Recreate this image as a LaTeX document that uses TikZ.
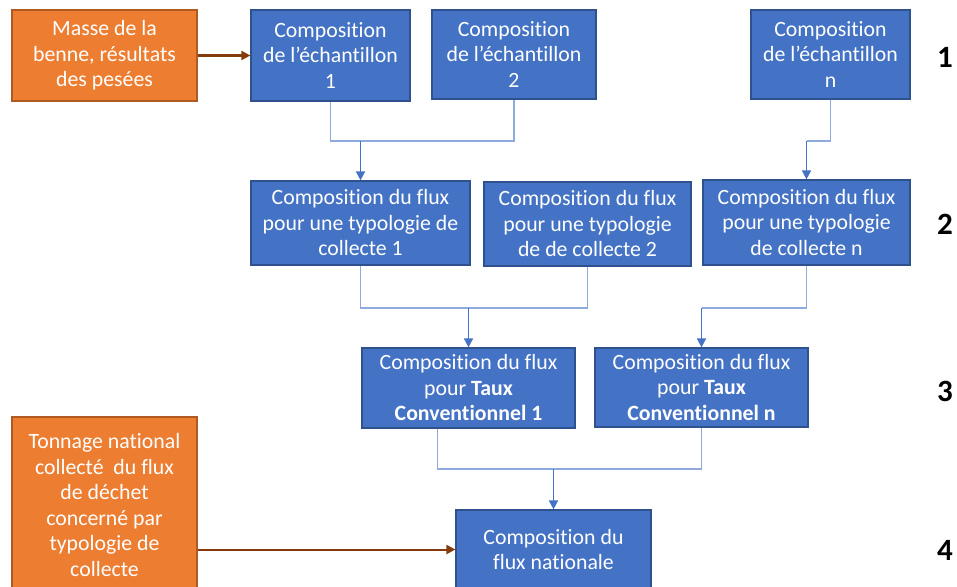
\documentclass[tikz,border=0pt]{standalone}
\usepackage{fontspec}
\setmainfont{Carlito}[Ligatures=NoCommon]
\usetikzlibrary{positioning,arrows.meta,calc}
\definecolor{boxblue}{HTML}{4472C4}
\definecolor{boxedge}{HTML}{2F528F}
\definecolor{boxorange}{HTML}{ED7D31}
\definecolor{orangeedge}{HTML}{AE5A21}
\definecolor{linkblue}{HTML}{8FAADC}
\definecolor{feedbrown}{HTML}{843C0C}

\begin{document}
\begin{tikzpicture}[x=1pt,y=-1pt,
  stage/.style={draw=boxedge, line width=1.2pt, fill=boxblue, text=white, align=center,
    inner sep=0pt, font=\fontsize{21.8}{25.5}\selectfont},
  source/.style={stage, draw=orangeedge, fill=boxorange},
  level/.style={font=\fontsize{31}{31}\selectfont\bfseries, anchor=center},
  link/.style={draw=linkblue, line width=1.1pt},
  down/.style={draw=boxblue, line width=1.6pt, -{Triangle[length=9pt,width=9pt]}},
  feed/.style={draw=feedbrown, line width=2pt, -{Triangle[length=9pt,width=9pt]}}]
\useasboundingbox (0,0) rectangle (957,586);
\clip (0,0) rectangle (957,586);

% niveau 1
\node[source, minimum width=185pt, minimum height=91pt] (masse) at (104.5,55.5)
  {Masse de la\\benne, résultats\\des pesées};
\node[stage, minimum width=159pt, minimum height=91pt] (ech1) at (330.5,55.5)
  {Composition\\de l’échantillon\\1};
\node[stage, minimum width=164pt, minimum height=89pt] (ech2) at (514,54.5)
  {Composition\\de l’échantillon\\2};
\node[stage, minimum width=159pt, minimum height=89pt] (echn) at (830.5,54.5)
  {Composition\\de l’échantillon\\n};

% niveau 2
\node[stage, minimum width=219pt, minimum height=84pt] (typo1) at (360.5,223)
  {Composition du flux\\pour une typologie de\\collecte 1};
\node[stage, minimum width=207pt, minimum height=84pt] (typo2) at (587.5,224)
  {Composition du flux\\pour une typologie\\de de collecte 2};
\node[stage, minimum width=207pt, minimum height=85pt] (typon) at (806.5,222.5)
  {Composition du flux\\pour une typologie\\de collecte n};

% niveau 3
\node[stage, minimum width=213pt, minimum height=80pt] (taux1) at (468.5,388)
  {Composition du flux\\pour \textbf{Taux}\\\textbf{Conventionnel 1}};
\node[stage, minimum width=213pt, minimum height=79pt] (tauxn) at (701.5,387.5)
  {Composition du flux\\pour \textbf{Taux}\\\textbf{Conventionnel n}};

% niveau 4
\node[source, minimum width=185pt, minimum height=176pt] (tonnage) at (104.5,505)
  {Tonnage national\\collecté\ \ du flux\\de déchet\\concerné par\\typologie de\\collecte};
\node[stage, minimum width=195pt, minimum height=79pt] (nat) at (553.5,549.5)
  {Composition du\\flux nationale};

\node[level] (l1) at (945,57) {1};
\node[level] (l2) at (945,224) {2};
\node[level] (l3) at (945,391) {3};
\node[level] (l4) at (945,550) {4};

% jonctions
\coordinate (j1) at (361,141);
\coordinate (j2) at (808,141);
\coordinate (j3) at (469,308);
\coordinate (j4) at (702,308);
\coordinate (j5) at (554,469);
\coordinate (t1out) at ($(taux1.south)+(-31,0)$);

\draw[link] (ech1.south) -- (ech1.south |- j1) -- (ech2.south |- j1) -- (ech2.south);
\draw[down] (typo1.north |- j1) -- (typo1.north);
\draw[link] (echn.south) -- (echn.south |- j2) -- (typon.north |- j2);
\draw[down] (typon.north |- j2) -- (typon.north);

\draw[link] (typo1.south) -- (typo1.south |- j3) -- (typo2.south |- j3) -- (typo2.south);
\draw[down] (taux1.north |- j3) -- (taux1.north);
\draw[link] (typon.south) -- (typon.south |- j4) -- (tauxn.north |- j4);
\draw[down] (tauxn.north |- j4) -- (tauxn.north);

\draw[link] (t1out) -- (t1out |- j5) -- (tauxn.south |- j5) -- (tauxn.south);
\draw[down] (nat.north |- j5) -- (nat.north);

\draw[feed] (masse.east) -- (ech1.west);
\draw[feed] (tonnage.east |- nat.west) -- (nat.west);
\end{tikzpicture}
\end{document}
